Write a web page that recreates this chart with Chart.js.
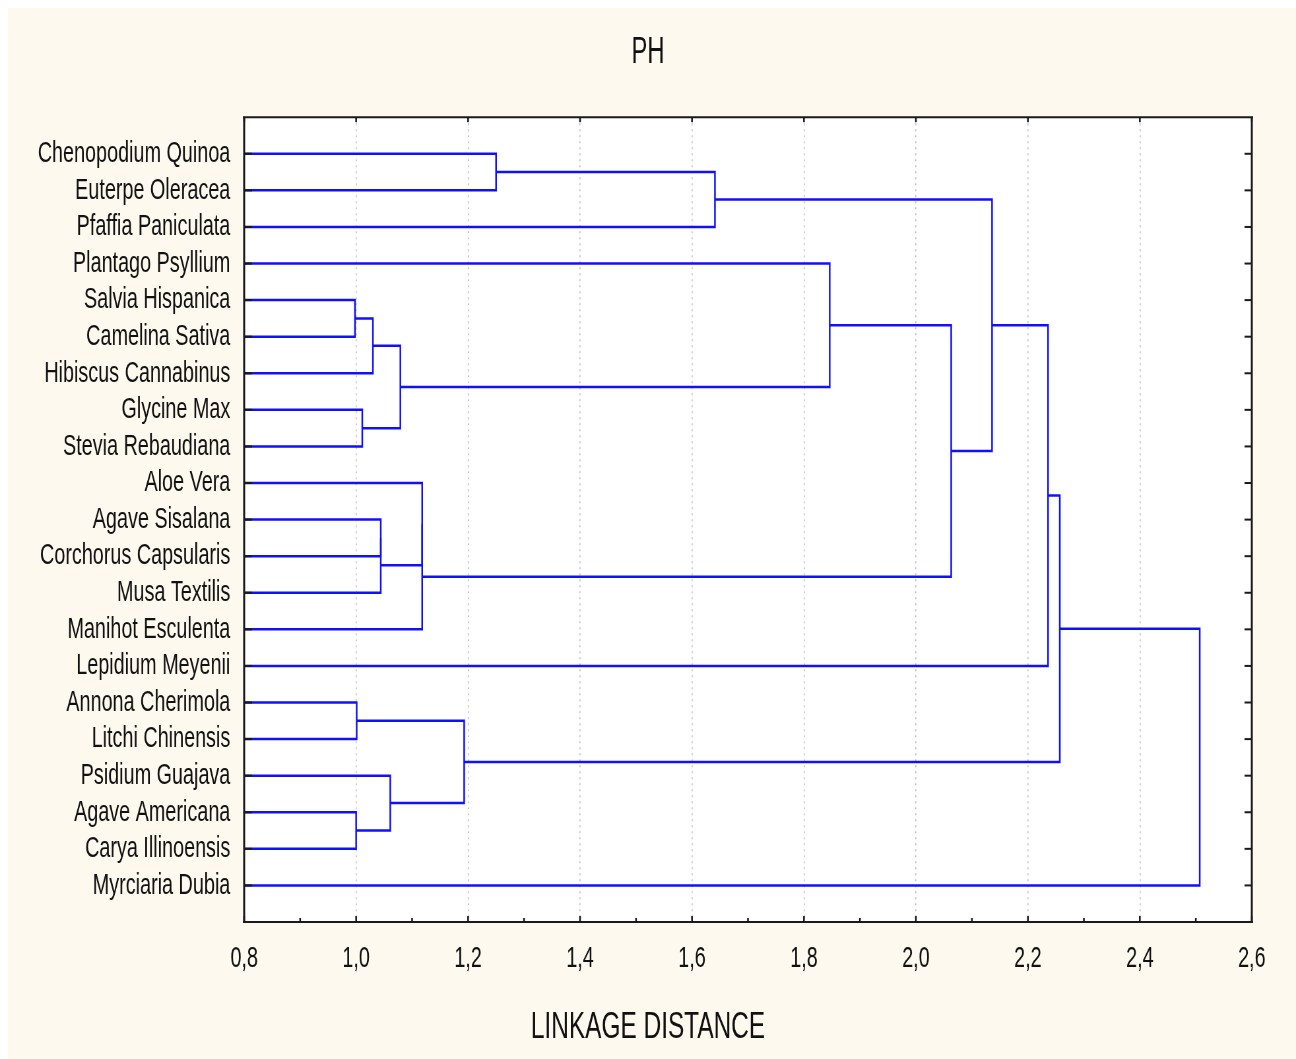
<!DOCTYPE html>
<html>
<head>
<meta charset="utf-8">
<script src="https://cdn.jsdelivr.net/npm/chart.js@4.4.1/dist/chart.umd.min.js"></script>
<style>
  html, body { margin: 0; padding: 0; background: #ffffff; }
</style>
</head>
<body>
<!-- drawn wide and squeezed by css, like the narrow lettering of the original -->
<canvas id="c" width="1964" height="1059" style="display:block;width:1296px;height:1059px"></canvas>
<script>
// leaves, top to bottom
var leaves = [
  'Chenopodium Quinoa', 'Euterpe Oleracea', 'Pfaffia Paniculata', 'Plantago Psyllium',
  'Salvia Hispanica', 'Camelina Sativa', 'Hibiscus Cannabinus', 'Glycine Max',
  'Stevia Rebaudiana', 'Aloe Vera', 'Agave Sisalana', 'Corchorus Capsularis',
  'Musa Textilis', 'Manihot Esculenta', 'Lepidium Meyenii', 'Annona Cherimola',
  'Litchi Chinensis', 'Psidium Guajava', 'Agave Americana', 'Carya Illinoensis',
  'Myrciaria Dubia'
];

// joins in order; 'cN' is the cluster made by join N
var mergeLeft = [
  'Chenopodium Quinoa', 'c0', 'Salvia Hispanica', 'c2', 'Glycine Max', 'c3', 'Plantago Psyllium',
  'Agave Sisalana', 'c7', 'Aloe Vera', 'c9', 'c6', 'c1', 'c12',
  'Annona Cherimola', 'Agave Americana', 'Psidium Guajava', 'c14', 'c13', 'c18'
];
var mergeRight = [
  'Euterpe Oleracea', 'Pfaffia Paniculata', 'Camelina Sativa', 'Hibiscus Cannabinus', 'Stevia Rebaudiana', 'c4', 'c5',
  'Corchorus Capsularis', 'Musa Textilis', 'c8', 'Manihot Esculenta', 'c10', 'c11', 'Lepidium Meyenii',
  'Litchi Chinensis', 'Carya Illinoensis', 'c15', 'c16', 'c17', 'Myrciaria Dubia'
];
var mergeHeights = [
  1.250, 1.641, 0.998, 1.030, 1.011, 1.079, 1.846,
  1.044, 1.044, 1.118, 1.118, 2.063, 2.136, 2.236,
  1.001, 1.000, 1.061, 1.193, 2.257, 2.507
];

var xMin = 0.8, xMax = 2.6, xStep = 0.2;

var font = 'Liberation Sans, Arial, sans-serif';
var lineColor = '#1010ff';

// build the U shaped links
var pos = {};
leaves.forEach(function (n, i) { pos[n] = { h: xMin, y: i }; });
var datasets = [];
mergeLeft.forEach(function (a, k) {
  var A = pos[a], B = pos[mergeRight[k]], h = mergeHeights[k];
  datasets.push({
    data: [{ x: A.h, y: A.y }, { x: h, y: A.y }, { x: h, y: B.y }, { x: B.h, y: B.y }],
    showLine: true,
    borderColor: lineColor,
    borderWidth: 2.5,
    pointRadius: 0,
    tension: 0,
    fill: false
  });
  pos['c' + k] = { h: h, y: (A.y + B.y) / 2 };
});

var frame = {
  id: 'frame',
  beforeDraw: function (chart) {
    var ctx = chart.ctx, a = chart.chartArea;
    ctx.save();
    ctx.fillStyle = '#fef9ef';
    ctx.fillRect(12, 8, chart.width - 12, chart.height - 8);
    ctx.fillStyle = '#ffffff';
    ctx.fillRect(a.left, a.top, a.right - a.left, a.bottom - a.top);
    ctx.restore();
  },
  afterDraw: function (chart) {
    var ctx = chart.ctx, a = chart.chartArea, x = chart.scales.x, y = chart.scales.y;
    function seg(x1, y1, x2, y2) { ctx.beginPath(); ctx.moveTo(x1, y1); ctx.lineTo(x2, y2); ctx.stroke(); }
    ctx.save();
    ctx.strokeStyle = '#1a1a1a';
    // ticks at each leaf, both sides, pointing in
    ctx.lineWidth = 2;
    leaves.forEach(function (n, i) {
      var py = y.getPixelForValue(i);
      seg(a.left, py, a.left + 12, py);
      seg(a.right - 11, py, a.right, py);
    });
    // major ticks top and bottom, minor ticks bottom
    ctx.lineWidth = 2.6;
    var t = x.ticks;
    for (var i = 0; i < t.length; i++) {
      var px = x.getPixelForValue(t[i].value);
      seg(px, a.bottom, px, a.bottom - 6);
      seg(px, a.top, px, a.top + 5);
      if (i < t.length - 1) {
        var pm = x.getPixelForValue((t[i].value + t[i + 1].value) / 2);
        seg(pm, a.bottom, pm, a.bottom - 4);
      }
    }
    // frame
    ctx.lineWidth = 2;
    seg(a.left - 2, a.top, a.right + 2, a.top);
    seg(a.left - 2, a.bottom, a.right + 2, a.bottom);
    ctx.lineWidth = 3;
    seg(a.left, a.top, a.left, a.bottom);
    seg(a.right, a.top, a.right, a.bottom);
    ctx.restore();
  }
};

new Chart(document.getElementById('c'), {
  type: 'scatter',
  data: { datasets: datasets },
  plugins: [frame],
  options: {
    responsive: false,
    devicePixelRatio: 1,
    animation: false,
    layout: { padding: 0 },
    plugins: {
      legend: { display: false },
      tooltip: { enabled: false },
      title: {
        display: true,
        text: 'PH',
        color: '#111111',
        font: { family: font, size: 36, weight: 'normal', lineHeight: 1.2 },
        padding: { top: 31, bottom: 43 }
      },
      // axis name, centred on the whole picture like the original
      subtitle: {
        display: true,
        position: 'bottom',
        text: 'LINKAGE DISTANCE',
        color: '#111111',
        font: { family: font, size: 37, weight: 'normal', lineHeight: 1.2 },
        padding: { top: 0, bottom: 9 }
      }
    },
    scales: {
      x: {
        type: 'linear',
        position: 'bottom',
        min: xMin,
        max: xMax,
        afterFit: function (s) { s.height = 83.6; },
        border: { display: false, dash: [2, 4] },
        grid: {
          drawTicks: false,
          lineWidth: 1.6,
          color: function (c) {
            var v = c.tick ? c.tick.value : 0;
            return (Math.abs(v - xMin) < 1e-6 || Math.abs(v - xMax) < 1e-6) ? 'rgba(0,0,0,0)' : '#bdbdbd';
          }
        },
        ticks: {
          stepSize: xStep,
          padding: 19,
          color: '#111111',
          font: { family: font, size: 30 },
          callback: function (v) { return v.toFixed(1).replace('.', ','); }
        }
      },
      y: {
        type: 'linear',
        position: 'left',
        reverse: true,
        min: -1,
        max: leaves.length,
        afterFit: function (s) { s.width = 370; },
        border: { display: false },
        grid: { display: false, drawTicks: false },
        ticks: {
          stepSize: 1,
          autoSkip: false,
          padding: 21,
          color: '#111111',
          font: { family: font, size: 30 },
          callback: function (v) { return leaves[v] || ''; }
        }
      },
      // empty right strip between the frame and the edge
      yRight: {
        type: 'linear',
        position: 'right',
        afterFit: function (s) { s.width = 67; },
        border: { display: false },
        grid: { display: false, drawTicks: false },
        ticks: { display: false }
      }
    }
  }
});
</script>
</body>
</html>
